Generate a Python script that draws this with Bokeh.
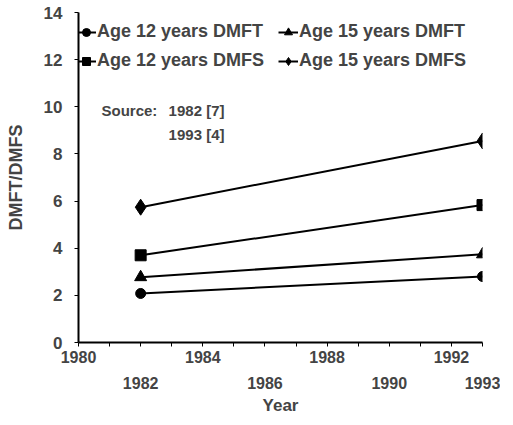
from bokeh.plotting import figure
from bokeh.models import (LinearAxis, FixedTicker, Legend, LegendItem, Label, Range1d)
from bokeh.embed import file_html
from bokeh.resources import INLINE

years = [1982, 1993]
age12_dmft = [2.08, 2.80]
age15_dmft = [2.77, 3.74]
age12_dmfs = [3.70, 5.83]
age15_dmfs = [5.74, 8.55]

x_ticks_all = list(range(1980, 1994))
x_labels_row1 = [1980, 1984, 1988, 1992]
x_labels_row2 = [1982, 1986, 1990, 1993]
y_ticks = [0, 2, 4, 6, 8, 10, 12, 14]

FONT = "Liberation Sans"

p = figure(width=500, height=417, output_backend="svg", toolbar_location=None,
           x_range=Range1d(1980, 1993), y_range=Range1d(0, 14),
           x_axis_type=None, y_axis_type=None,
           min_border_left=78, min_border_right=18, min_border_top=12, min_border_bottom=75)
p.outline_line_color = None
p.xgrid.visible = False
p.ygrid.visible = False
p.background_fill_color = "white"

# y axis
yax = LinearAxis(ticker=FixedTicker(ticks=y_ticks), axis_label="DMFT/DMFS")
yax.axis_line_width = 2
yax.major_tick_out = 4
yax.major_tick_in = 0
yax.minor_tick_line_color = None
yax.major_label_text_font = FONT
yax.major_label_text_font_size = "17px"
yax.major_label_text_font_style = "bold"
yax.major_label_standoff = 12
yax.axis_label_text_font = FONT
yax.axis_label_text_font_size = "18px"
yax.axis_label_text_font_style = "bold"
yax.axis_label_standoff = 15
p.add_layout(yax, "left")

# x axis row 1
overrides = {y: "" for y in x_ticks_all if y not in x_labels_row1}
xax = LinearAxis(ticker=FixedTicker(ticks=x_ticks_all), major_label_overrides=overrides)
xax.axis_line_width = 2
xax.major_tick_out = 4
xax.major_tick_in = 0
xax.minor_tick_line_color = None
xax.major_label_text_font = FONT
xax.major_label_text_font_size = "16px"
xax.major_label_text_font_style = "bold"
xax.major_label_standoff = 4
p.add_layout(xax, "below")

# x axis row 2
xax2 = LinearAxis(ticker=FixedTicker(ticks=x_labels_row2), axis_label="Year")
xax2.axis_line_color = None
xax2.major_tick_line_color = None
xax2.minor_tick_line_color = None
xax2.major_label_text_font = FONT
xax2.major_label_text_font_size = "16px"
xax2.major_label_text_font_style = "bold"
xax2.major_label_standoff = 5
xax2.axis_label_text_font = FONT
xax2.axis_label_text_font_size = "17px"
xax2.axis_label_text_font_style = "bold"
xax2.axis_label_standoff = 4
p.add_layout(xax2, "below")

series = [
    ("Age 12 years DMFT", age12_dmft, "circle", 10),
    ("Age 12 years DMFS", age12_dmfs, "square", 11),
    ("Age 15 years DMFT", age15_dmft, "triangle", 12),
    ("Age 15 years DMFS", age15_dmfs, "diamond", 16),
]
items = []
for name, vals, marker, size in series:
    r1 = p.line(years, vals, line_color="black", line_width=2)
    r2 = p.scatter(years, vals, marker=marker, size=size, fill_color="black", line_color="black")
    items.append(LegendItem(label=name, renderers=[r1, r2]))

legend = Legend(items=items, ncols=2, location=(-2, 271))
legend.border_line_color = None
legend.background_fill_alpha = 0
legend.label_text_font = FONT
legend.label_text_font_size = "18px"
legend.label_text_font_style = "bold"
legend.glyph_width = 20
legend.glyph_height = 20
legend.label_standoff = 1
legend.label_width = 173
legend.spacing = 8
legend.padding = 0
legend.margin = 0
legend.label_height = 20
p.add_layout(legend, "center")

for txt, xv, yv in [("Source:", 1980.74, 9.85), ("1982 [7]", 1982.9, 9.85), ("1993 [4]", 1982.9, 8.83)]:
    p.add_layout(Label(x=xv, y=yv, text=txt, text_font=FONT, text_font_size="15px",
                       text_font_style="bold", text_baseline="middle", text_align="left"))

open("out.html", "w").write(file_html(p, INLINE))
